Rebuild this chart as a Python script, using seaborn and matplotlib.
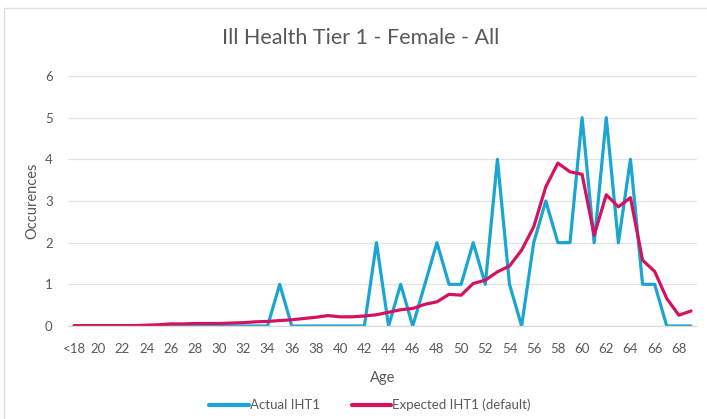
import numpy as np
import pandas as pd
import matplotlib
matplotlib.use("Agg")
import matplotlib.pyplot as plt
import seaborn as sns
from matplotlib.lines import Line2D

ages = ["<18"] + [str(a) for a in range(19, 70)]
actual = [0, 0, 0, 0, 0, 0, 0, 0, 0, 0, 0, 0, 0, 0, 0, 0, 0,  # <18..34
          1, 0, 0, 0, 0, 0, 0, 0,                            # 35..42
          2, 0, 1, 0, 1, 2, 1, 1, 2, 1, 4, 1, 0,             # 43..55
          2, 3, 2, 2, 5, 2, 5, 2, 4, 1, 1, 0, 0, 0]          # 56..69
expected = [0.01, 0.01, 0.01, 0.01, 0.01, 0.01, 0.02, 0.03, 0.05, 0.05,  # <18..27
            0.06, 0.06, 0.06, 0.07, 0.08, 0.10, 0.11, 0.13, 0.15, 0.18,  # 28..37
            0.21, 0.25, 0.22, 0.22, 0.24, 0.27, 0.33, 0.39, 0.42, 0.52,  # 38..47
            0.58, 0.76, 0.74, 1.02, 1.10, 1.30, 1.44, 1.82, 2.38, 3.34,  # 48..57
            3.91, 3.70, 3.64, 2.18, 3.15, 2.86, 3.08, 1.58, 1.31, 0.66,  # 58..67
            0.26, 0.36]                                                   # 68..69
series_names = ["Actual IHT1", "Expected IHT1 (default)"]
colors = ["#1AA5D2", "#D4125F"]

df = pd.DataFrame({
    "idx": list(range(len(ages))) * 2,
    "value": actual + expected,
    "series": [series_names[0]] * len(ages) + [series_names[1]] * len(ages),
})

sns.set_theme(style="white")
plt.rcParams["font.family"] = ["Lato", "DejaVu Sans"]

fig = plt.figure(figsize=(7.07, 4.19), dpi=100)
ax = fig.add_axes([68 / 707, 1 - 326 / 419, (697 - 68) / 707, (326 - 76) / 419])

sns.lineplot(data=df, x="idx", y="value", hue="series", palette=colors,
             linewidth=2.3, ax=ax, legend=False, sort=False)

ax.set_xlim(-0.5, len(ages) - 0.5)
ax.set_ylim(0, 6)
ax.set_yticks(range(0, 7))
ax.set_xticks(range(0, len(ages), 2))
ax.set_xticklabels(ages[::2])
ax.grid(axis="y", color="#E3E3E3", linewidth=0.9)
ax.set_axisbelow(True)
for s in ["top", "right", "left"]:
    ax.spines[s].set_visible(False)
ax.spines["bottom"].set_color("#D9D9D9")
ax.spines["bottom"].set_linewidth(0.9)
ax.tick_params(axis="both", length=0, labelsize=9.5, colors="#595959")
ax.tick_params(axis="x", pad=12)
ax.tick_params(axis="y", pad=11)

ax.set_xlabel("Age", fontsize=10.5, color="#595959", labelpad=12)
ax.set_ylabel("Occurences", fontsize=10.5, color="#595959", labelpad=4)

fig.text(361 / 707, 1 - 38 / 419, "Ill Health Tier 1 - Female - All",
         ha="center", va="center", fontsize=15.5, color="#595959")

handles = [Line2D([0], [0], color=c, linewidth=3) for c in colors]
fig.legend(handles, series_names, loc="center", bbox_to_anchor=(370 / 707, 1 - 405 / 419),
           ncol=2, frameon=False, fontsize=9.5, handlelength=3.0, handletextpad=0.1,
           columnspacing=2.4, labelcolor="#595959")

# chart border
fig.add_artist(Line2D([4 / 707, 4 / 707], [0, 1 - 8 / 419], transform=fig.transFigure,
                      color="#E0E0E0", linewidth=1))
fig.add_artist(Line2D([4 / 707, 1], [1 - 8 / 419, 1 - 8 / 419], transform=fig.transFigure,
                      color="#E0E0E0", linewidth=1))

fig.savefig("out.png", dpi=100, facecolor="white")
